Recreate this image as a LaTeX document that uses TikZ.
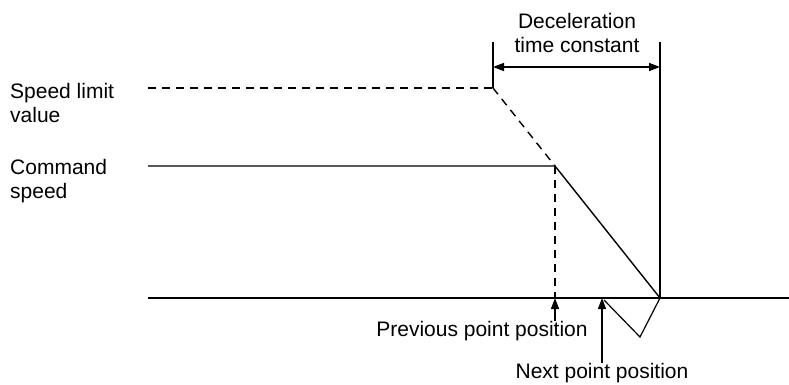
\documentclass[tikz,border=0pt]{standalone}
\usepackage{fontspec}
\setmainfont{Liberation Sans}
\usetikzlibrary{arrows.meta}
\begin{document}
\begin{tikzpicture}[
    x=1pt,
    y=-1pt,
    >={Triangle[length=11pt,width=8pt]},
    every node/.style={
        font=\fontsize{21}{24}\selectfont,
        inner sep=0pt
    },
    sidelabel/.style={
        align=left,
        anchor=west
    },
    solidline/.style={
        line width=1.4pt
    },
    dashedline/.style={
        line width=1.4pt,
        dash pattern=on 8pt off 6pt
    },
    axisline/.style={
        line width=2pt
    }
]
    \useasboundingbox (0,0) rectangle (789,385);

    % Punkte des Verlaufs
    \coordinate (limitstart) at (148,88);
    \coordinate (limitend) at (493,88);
    \coordinate (cmdstart) at (148,166);
    \coordinate (cmdend) at (555,166);
    \coordinate (stop) at (660,298);
    \coordinate (axisstart) at (148,298);
    \coordinate (axisend) at (789,298);
    \coordinate (prevpos) at (555,298);
    \coordinate (nextpos) at (604,300);
    \coordinate (overshoot) at (640,337);
    \coordinate (dectop) at (493,42);
    \coordinate (stoptop) at (660,42);
    \coordinate (decleft) at (493,67);
    \coordinate (decright) at (660,67);
    \coordinate (prevtail) at (555,321);
    \coordinate (nexttip) at (602,298);

    \node[sidelabel] (limitlabel) at (10,103)
        {Speed limit\\value};

    \node[sidelabel] (cmdlabel) at (10,181)
        {Command\\speed};

    \node[align=center] (declabel) at (577,33)
        {Deceleration\\time constant};

    \node (prevlabel) at (482,331)
        {Previous point position};

    \node (nextlabel) at (602,373)
        {Next point position};

    \draw[dashedline]
        (limitstart) -- (limitend);

    \draw[dashedline]
        (limitend) -- (cmdend);

    \draw[solidline]
        (cmdstart) -- (cmdend) -- (stop);

    \draw[dashedline]
        (cmdend) -- (prevpos);

    \draw[axisline]
        (axisstart) -- (axisend);

    \draw[solidline]
        (dectop) -- (limitend);

    \draw[solidline]
        (stoptop) -- (stop);

    \draw[solidline, <->]
        (decleft) -- (decright);

    \draw[solidline, ->]
        (prevtail) -- (prevpos);

    \draw[solidline, ->]
        (nextlabel.north) -- (nexttip);

    \draw[line width=1.2pt]
        (nextpos) -- (overshoot) -- (stop);
\end{tikzpicture}
\end{document}
